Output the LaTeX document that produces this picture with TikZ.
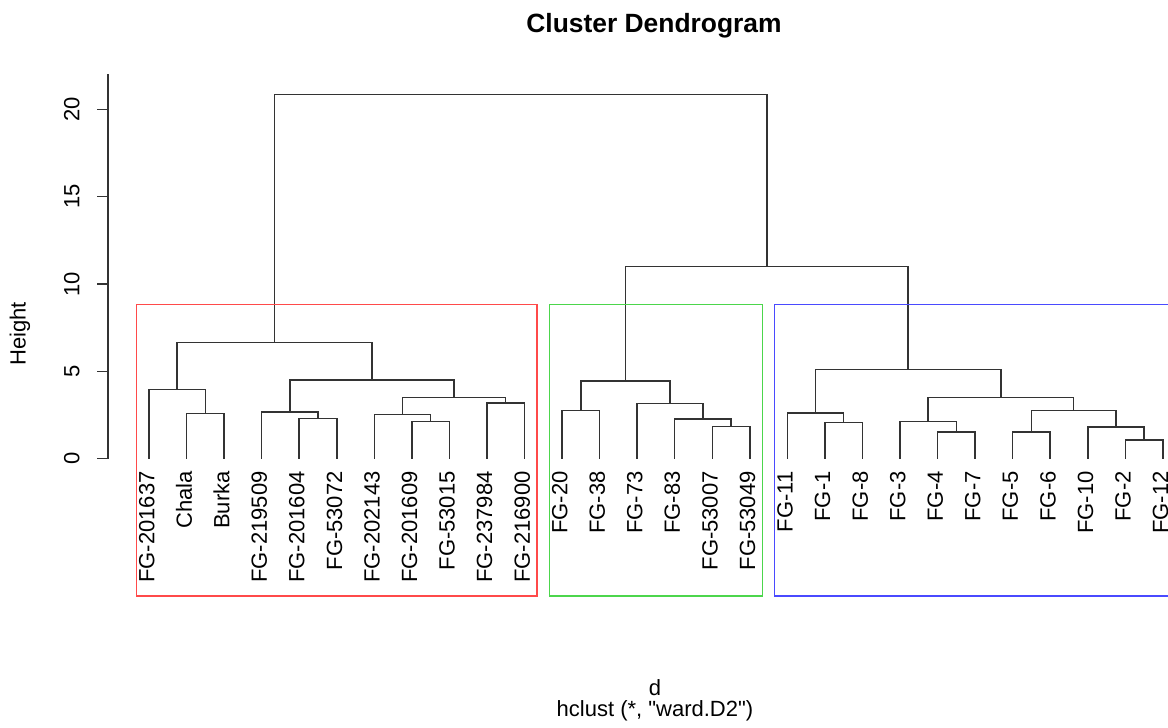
\documentclass[tikz,border=0pt]{standalone}
\usepackage{fontspec}
\setmainfont{Liberation Sans}
\newfontfamily\rawfont{Liberation Sans}
\usetikzlibrary{positioning,calc}
\definecolor{boxred}{HTML}{FF4A4A}
\definecolor{boxgreen}{HTML}{4CD64C}
\definecolor{boxblue}{HTML}{4A4AFF}
\tikzset{
  branch/.style={line width=0.75pt, black!80},
  leaflabel/.style={rotate=90, anchor=mid east, inner sep=0pt, font=\fontsize{11}{13}\selectfont},
  ticklabel/.style={rotate=90, anchor=south, inner sep=0pt, font=\fontsize{11}{13}\selectfont},
  clusterbox/.style={line width=0.7pt}
}
\newcommand \mymerge[4]
{
\coordinate (#1-m) at ($(#2)!0.5!(#3)$);
\coordinate (#1-h) at (0,#4);
\coordinate (#1) at (#1-m |- #1-h);
\draw[branch] (#2) |- (#1) -| (#3);
}

\begin{document}
\begin{tikzpicture}[x=18.775pt, y=8.735pt, line join=miter]
\useasboundingbox (-3.968,-15.358) rectangle (27.137,26.257);
% leaves
\foreach \name [count=\i from 0] in {FG-201637,Chala,Burka,FG-219509,FG-201604,FG-53072,FG-202143,FG-201609,FG-53015,FG-237984,FG-216900,FG-20,FG-38,FG-73,FG-83,FG-53007,FG-53049,FG-11,FG-1,FG-8,FG-3,FG-4,FG-7,FG-5,FG-6,FG-10,FG-2,FG-12}
{
\coordinate (L\i) at (\i,0);
\node[leaflabel] (lab\i) at (\i,-0.7) {\name};
}
% red cluster
\mymerge{a1}{L1}{L2}{2.58}
\mymerge{a2}{L0}{a1}{3.97}
\mymerge{b1}{L4}{L5}{2.29}
\mymerge{b2}{L3}{b1}{2.67}
\mymerge{c1}{L7}{L8}{2.14}
\mymerge{c2}{L6}{c1}{2.52}
\mymerge{c3}{L9}{L10}{3.20}
\mymerge{c4}{c2}{c3}{3.49}
\mymerge{b3}{b2}{c4}{4.50}
\mymerge{red}{a2}{b3}{6.66}
% green cluster
\mymerge{g1}{L11}{L12}{2.75}
\mymerge{g2}{L15}{L16}{1.83}
\mymerge{g3}{L14}{g2}{2.27}
\mymerge{g4}{L13}{g3}{3.15}
\mymerge{grn}{g1}{g4}{4.45}
% blue cluster
\mymerge{u1}{L18}{L19}{2.06}
\mymerge{u2}{L17}{u1}{2.63}
\mymerge{v1}{L21}{L22}{1.53}
\mymerge{v2}{L20}{v1}{2.14}
\mymerge{w1}{L23}{L24}{1.53}
\mymerge{w2}{L26}{L27}{1.07}
\mymerge{w3}{L25}{w2}{1.81}
\mymerge{w4}{w1}{w3}{2.75}
\mymerge{v3}{v2}{w4}{3.49}
\mymerge{blu}{u2}{v3}{5.12}
% top
\mymerge{gb}{grn}{blu}{10.99}
\mymerge{root}{red}{gb}{20.86}
% boxes
\draw[clusterbox, boxred]   (-0.34,-7.86) rectangle (10.33,8.83);
\draw[clusterbox, boxgreen] (10.66,-7.86) rectangle (16.33,8.83);
\draw[clusterbox, boxblue]  (16.66,-7.86) rectangle (27.33,8.83);
% axis
\draw[branch] (-1.092,0) -- (-1.092,22.02);
\foreach \t in {0,5,10,15,20}
{
\draw[branch] (-1.092,\t) -- (-1.385,\t);
\node[ticklabel] (tick\t) at (-1.838,\t) {\t};
}
% texts
\node[ticklabel] (ylab) at (-3.156,7.14) {Height};
\node[anchor=base, inner sep=0pt, font=\fontsize{13.2}{15}\selectfont\bfseries] (title) at (13.449,24.37) {Cluster Dendrogram};
\node[anchor=base, inner sep=0pt, font=\fontsize{11}{13}\selectfont] (dlab) at (13.475,-13.53) {d};
\node[anchor=base, inner sep=0pt, font=\fontsize{11}{13}\selectfont\rawfont] (method) at (13.475,-14.74) {hclust (*, "ward.D2")};
\end{tikzpicture}
\end{document}
